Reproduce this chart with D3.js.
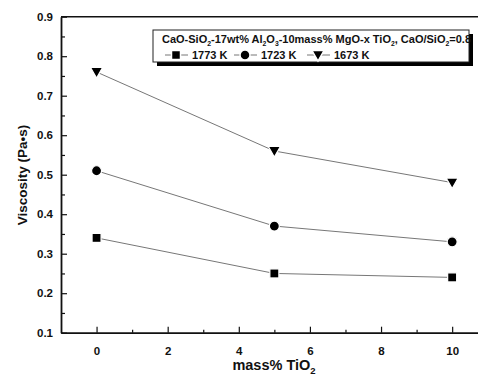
<!DOCTYPE html>
<html><head><meta charset="utf-8">
<script src="https://cdn.jsdelivr.net/npm/d3@7"></script>
<style>body{margin:0;background:#fff}svg{display:block}text{font-family:"Liberation Sans",Arial,sans-serif;font-weight:bold;fill:#111}</style>
</head><body>
<script>
const tio2 = [0, 5, 10];
const v1773 = [0.34, 0.25, 0.24];
const v1723 = [0.51, 0.37, 0.33];
const v1673 = [0.76, 0.56, 0.48];
const seriesNames = ["1773 K", "1723 K", "1673 K"];
const seriesShapes = ["square", "circle", "triangle"];
const xTicks = [0, 2, 4, 6, 8, 10];
const yTicks = [0.1, 0.2, 0.3, 0.4, 0.5, 0.6, 0.7, 0.8, 0.9];

const W = 478, H = 378;
const svg = d3.select("body").append("svg").attr("width", W).attr("height", H);
const x = d3.scaleLinear().domain([-1, 11]).range([61, 61 + 12 * 35.56]);
const y = d3.scaleLinear().domain([0.1, 0.9]).range([332.7, 16.7]);

const series = [v1773, v1723, v1673].map((vals, i) => ({name: seriesNames[i], shape: seriesShapes[i], pts: tio2.map((t, j) => [t, vals[j]])}));

// axes
const gx = svg.append("g").attr("transform", `translate(0,${y(0.1)})`)
  .call(d3.axisBottom(x).tickValues(xTicks).tickSizeInner(-6).tickSizeOuter(0).tickPadding(14).tickFormat(d3.format("d")));
gx.select(".domain").attr("stroke", "#111").attr("stroke-width", 1.8);
gx.selectAll(".tick line").attr("stroke", "#111").attr("stroke-width", 1.2);
gx.selectAll(".tick text").attr("font-size", 11.5).style("font-family", "Liberation Sans").style("font-weight", "bold");
svg.append("g").attr("transform", `translate(0,${y(0.1)})`)
  .call(d3.axisBottom(x).tickValues([1, 3, 5, 7, 9]).tickSizeInner(-3).tickSizeOuter(0).tickFormat(""))
  .call(g => { g.select(".domain").remove(); g.selectAll("line").attr("stroke", "#111").attr("stroke-width", 1.2); });

const gy = svg.append("g").attr("transform", `translate(${x(-1)},0)`)
  .call(d3.axisLeft(y).tickValues(yTicks).tickSizeInner(-6).tickSizeOuter(0).tickPadding(14).tickFormat(d3.format(".1f")));
gy.select(".domain").attr("stroke", "#111").attr("stroke-width", 1.8);
gy.selectAll(".tick line").attr("stroke", "#111").attr("stroke-width", 1.2);
gy.selectAll(".tick text").attr("font-size", 11.5).style("font-family", "Liberation Sans").style("font-weight", "bold").attr("x", -8);
svg.append("g").attr("transform", `translate(${x(-1)},0)`)
  .call(d3.axisLeft(y).tickValues(d3.range(0.15, 0.9, 0.1)).tickSizeInner(-4).tickSizeOuter(0).tickFormat(""))
  .call(g => { g.select(".domain").remove(); g.selectAll("line").attr("stroke", "#111").attr("stroke-width", 1.2); });

// top border
svg.append("line").attr("x1", x(-1)).attr("x2", W).attr("y1", y(0.9)).attr("y2", y(0.9)).attr("stroke", "#111").attr("stroke-width", 1.5);

// lines
const line = d3.line().x(d => x(d[0])).y(d => y(d[1]));
svg.append("g").selectAll("path").data(series).join("path")
  .attr("d", d => line(d.pts)).attr("fill", "none").attr("stroke", "#777").attr("stroke-width", 1);

function marker(sel, shape) {
  if (shape === "square") sel.append("rect").attr("x", -4.5).attr("y", -4.5).attr("width", 9).attr("height", 9);
  else if (shape === "circle") sel.append("circle").attr("r", 5);
  else sel.append("path").attr("d", "M-6,-4.5L6,-4.5L0,6Z");
}
series.forEach(s => {
  svg.append("g").selectAll("g").data(s.pts).join("g")
    .attr("transform", d => `translate(${x(d[0])},${y(d[1])})`)
    .each(function () { marker(d3.select(this), s.shape); })
    .selectAll("*").attr("fill", "#000").attr("stroke", "#fff").attr("stroke-width", 1.2);
});

// legend
const lg = svg.append("g");
lg.append("rect").attr("x", 157).attr("y", 34).attr("width", 316).attr("height", 32).attr("fill", "#000");
lg.append("rect").attr("x", 153).attr("y", 30).attr("width", 316).attr("height", 32).attr("fill", "#fff").attr("stroke", "#222").attr("stroke-width", 1);
const t1 = lg.append("text").attr("x", 162).attr("y", 43).attr("font-size", 11);
[["CaO-SiO", false], ["2", true], ["-17wt% Al", false], ["2", true], ["O", false], ["3", true], ["-10mass% MgO-x TiO", false], ["2", true], [", CaO/SiO", false], ["2", true], ["=0.8", false]]
  .forEach(([s, sub]) => {
    const ts = t1.append("tspan").text(s);
    if (sub) ts.attr("font-size", 6.8).attr("dy", 3);
    else if (s !== "CaO-SiO") ts.attr("dy", -3);
  });
const legX = [176, 245, 318];
series.forEach((s, i) => {
  const g = lg.append("g").attr("transform", `translate(${legX[i]},55)`);
  g.append("line").attr("x1", -11).attr("x2", 12).attr("y1", 0).attr("y2", 0).attr("stroke", "#777").attr("stroke-width", 1);
  const m = g.append("g");
  marker(m, s.shape);
  m.selectAll("*").attr("fill", "#000").attr("stroke", "#fff").attr("stroke-width", 1.5);
  g.append("text").attr("x", 16).attr("y", 4).attr("font-size", 11).text(s.name);
});

// axis titles
svg.append("text").attr("transform", "translate(27,175) rotate(-90)").attr("text-anchor", "middle").attr("font-size", 13.5).text("Viscosity (Pa\u2022s)");
const xt = svg.append("text").attr("x", 274).attr("y", 370).attr("text-anchor", "middle").attr("font-size", 14.5);
xt.append("tspan").text("mass% TiO");
xt.append("tspan").attr("font-size", 9.5).attr("dy", 4).text("2");
</script>
</body></html>
